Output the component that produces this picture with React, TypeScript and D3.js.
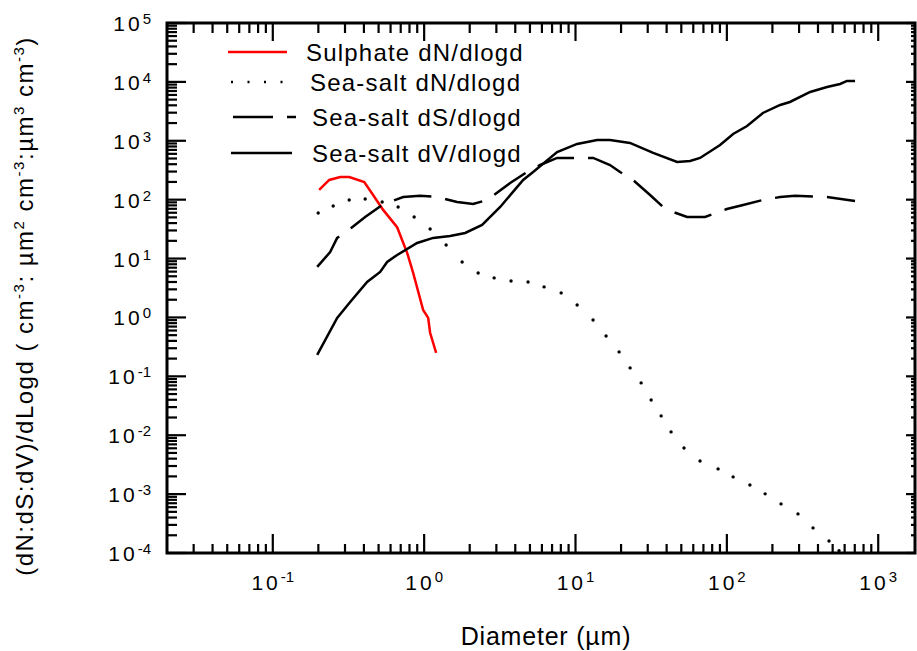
import React from 'react';
import * as d3 from 'd3';

// Sulphate dN/dlogd (diameter µm, value)
const sulphateD = [0.2025, 0.236, 0.279, 0.32, 0.402, 0.46, 0.536, 0.663, 0.773, 0.846, 0.985, 1.063, 1.095, 1.2];
const sulphateV = [146, 216, 243, 243, 200, 120, 67, 34, 12.4, 5.7, 1.34, 0.98, 0.55, 0.25];

// Sea-salt dN/dlogd
const saltND = [0.1995, 0.2506, 0.3197, 0.4076, 0.528, 0.673, 0.859, 1.095, 1.397, 1.782, 2.274, 2.9, 3.75, 4.86, 6.2, 8.04, 10.25, 13.06, 15.92, 19.41, 22.95, 27.13, 31.6, 36.8, 42.8, 52.1, 66.5, 87.5, 110, 142, 179, 228, 295, 371, 473, 551];
const saltNV = [59.5, 78.2, 98.9, 102.8, 91.4, 75.2, 50.8, 31.8, 17.0, 8.75, 5.7, 4.69, 4.17, 4.01, 3.3, 2.61, 1.63, 0.907, 0.485, 0.26, 0.139, 0.0773, 0.0397, 0.0213, 0.01138, 0.00608, 0.00366, 0.00268, 0.00196, 0.00143, 0.00101, 0.000682, 0.000461, 0.000267, 0.00016, 0.000109];

// Sea-salt dS/dlogd
const saltSD = [0.1965, 0.2393, 0.2663, 0.3296, 0.4076, 0.528, 0.7266, 0.941, 1.219, 1.652, 2.107, 2.61, 3.7, 4.79, 5.84, 7.56, 10.7, 13.1, 16.9, 19.7, 24.0, 31.1, 37.9, 44.2, 54.6, 71.8, 100, 128, 173, 225, 282, 459, 703];
const saltSV = [7.21, 12.9, 22.4, 33.1, 50.8, 81.3, 111, 116, 111, 91.4, 84.5, 98.9, 192, 295, 388, 511, 511, 511, 388, 295, 216, 120, 75.2, 61.8, 50.8, 50.8, 69.5, 81.3, 98.9, 111, 116, 111, 95.1];

// Sea-salt dV/dlogd
const saltVD = [0.1965, 0.2663, 0.3245, 0.42, 0.512, 0.5695, 0.663, 0.899, 1.147, 1.485, 1.866, 2.415, 3.18, 4.51, 5.25, 7.56, 10.25, 13.9, 16.9, 22.9, 32.6, 46.9, 57.2, 66.5, 90.2, 110, 136, 173, 225, 261, 355, 459, 560, 622, 703];
const saltVV = [0.231, 0.98, 1.83, 4.01, 5.92, 8.75, 11.5, 18.4, 22.4, 24.2, 27.2, 37.2, 75.2, 216, 295, 645, 883, 1033, 1033, 918, 621, 437, 454, 511, 849, 1306, 1784, 2965, 4053, 4560, 6745, 8200, 9230, 10370, 10370];

const legendLabels = ['Sulphate dN/dlogd', 'Sea-salt dN/dlogd', 'Sea-salt dS/dlogd', 'Sea-salt dV/dlogd'];
const xMajor = [-1, 0, 1, 2, 3];
const yMajor = [-4, -3, -2, -1, 0, 1, 2, 3, 4, 5];

const W = 917, H = 651;
const L = 167, R = 915, T = 23, B = 553;
const FONT = '"Liberation Sans", Arial, sans-serif';

export default function App() {
  const x = d3.scaleLog().domain([0.02, 1750]).range([L, R]);
  const y = d3.scaleLog().domain([1e-4, 1e5]).range([B, T]);

  const line = d3.line<[number, number]>().x(d => x(d[0])).y(d => y(d[1]));
  const zip = (a: number[], b: number[]) => a.map((v, i) => [v, b[i]] as [number, number]);

  // minor ticks
  const xMinor: number[] = [];
  for (let e = -2; e <= 3; e++) for (let k = 2; k <= 9; k++) {
    const v = k * Math.pow(10, e);
    if (v > 0.02 && v < 1750) xMinor.push(v);
  }
  const yMinor: number[] = [];
  for (let e = -4; e < 5; e++) for (let k = 2; k <= 9; k++) yMinor.push(k * Math.pow(10, e));

  const tickW = 2.2;
  const sup = (s: string) => <tspan dy={-9} fontSize={15}>{s}</tspan>;
  const down = (s: string) => <tspan dy={9}>{s}</tspan>;

  return (
    <svg width={W} height={H} style={{ position: 'absolute', left: 0, top: 0, background: '#fff' }} fontFamily={FONT}>
      <defs>
        <clipPath id="plot"><rect x={L} y={T} width={R - L} height={B - T} /></clipPath>
      </defs>

      {/* ticks */}
      <g stroke="#000" strokeWidth={tickW}>
        {xMajor.map(e => {
          const px = x(Math.pow(10, e));
          return <g key={'xm' + e}>
            <line x1={px} x2={px} y1={B} y2={B - 19} />
            <line x1={px} x2={px} y1={T} y2={T + 18} />
          </g>;
        })}
        {xMinor.map(v => {
          const px = x(v);
          return <g key={'xn' + v}>
            <line x1={px} x2={px} y1={B} y2={B - 9} />
            <line x1={px} x2={px} y1={T} y2={T + 10} />
          </g>;
        })}
        {yMajor.map(e => {
          const py = y(Math.pow(10, e));
          return <g key={'ym' + e}>
            <line x1={L} x2={L + 19} y1={py} y2={py} />
            <line x1={R} x2={R - 9} y1={py} y2={py} />
          </g>;
        })}
        {yMinor.map(v => {
          const py = y(v);
          return <g key={'yn' + v}>
            <line x1={L} x2={L + 10} y1={py} y2={py} />
            <line x1={R} x2={R - 4} y1={py} y2={py} />
          </g>;
        })}
      </g>
      <rect x={L} y={T} width={R - L} height={B - T} fill="none" stroke="#000" strokeWidth={3} />

      {/* tick labels */}
      <g fontSize={21} fill="#000">
        {xMajor.map(e => (
          <text key={'xl' + e} x={x(Math.pow(10, e))} y={B + 37} textAnchor="middle">
            <tspan letterSpacing={3}>10</tspan><tspan dy={-8} fontSize={15}>{e}</tspan>
          </text>
        ))}
        {yMajor.map(e => (
          <text key={'yl' + e} x={151} y={y(Math.pow(10, e)) + 8} textAnchor="end">
            <tspan letterSpacing={3}>10</tspan><tspan dy={-7} fontSize={15}>{e}</tspan>
          </text>
        ))}
      </g>

      {/* data */}
      <g clipPath="url(#plot)" fill="none">
        <path d={line(zip(sulphateD, sulphateV)) || ''} stroke="#ff0000" strokeWidth={2.5} />
        <path d={line(zip(saltSD, saltSV)) || ''} stroke="#000" strokeWidth={2.5} strokeDasharray="38,14" />
        <path d={line(zip(saltVD, saltVV)) || ''} stroke="#000" strokeWidth={2.5} />
        {saltND.map((d, i) => (
          <circle key={'dn' + i} cx={x(d)} cy={y(saltNV[i])} r={1.7} fill="#000" />
        ))}
      </g>

      {/* legend */}
      <g stroke="#000" strokeWidth={2.5}>
        <line x1={228} x2={287} y1={52} y2={52} stroke="#ff0000" />
        <line x1={231} x2={284} y1={82} y2={82} strokeDasharray="2,14.5" />
        <line x1={233} x2={296} y1={117} y2={117} strokeDasharray="40,14" />
        <line x1={231} x2={292} y1={153} y2={153} />
      </g>
      <g fontSize={24} fill="#000" letterSpacing={1.2}>
        <text x={306} y={61}>{legendLabels[0]}</text>
        <text x={310} y={91}>{legendLabels[1]}</text>
        <text x={312} y={126}>{legendLabels[2]}</text>
        <text x={312} y={162}>{legendLabels[3]}</text>
      </g>

      {/* axis titles */}
      <text x={546} y={645} fontSize={25} letterSpacing={0.8} textAnchor="middle">Diameter (µm)</text>
      <text transform="translate(33,306) rotate(-90)" fontSize={24} letterSpacing={1.5} textAnchor="middle">
        <tspan>(dN:dS:dV)/dLogd ( cm</tspan>
        {sup('-3')}
        {down(': µm')}
        {sup('2')}
        {down(' cm')}
        {sup('-3')}
        {down(':µm')}
        {sup('3')}
        {down(' cm')}
        {sup('-3')}
        {down(')')}
      </text>
    </svg>
  );
}
